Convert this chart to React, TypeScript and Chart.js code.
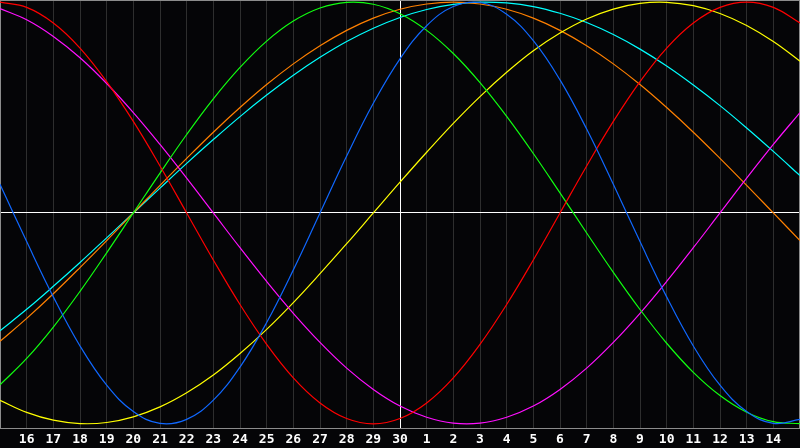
import React, { useEffect, useRef } from 'react';
import { Chart, registerables } from 'chart.js';

Chart.register(...registerables);

// Day labels (first and last positions are unlabeled chart edges)
const dayLabels = ['', '16', '17', '18', '19', '20', '21', '22', '23', '24', '25', '26', '27', '28', '29', '30',
  '1', '2', '3', '4', '5', '6', '7', '8', '9', '10', '11', '12', '13', '14', ''];

// Physical (blue)
const physical = [0.136, -0.136, -0.398, -0.631, -0.817, -0.942, -0.998, -0.979, -0.888, -0.731, -0.520, -0.270,
  0, 0.270, 0.520, 0.731, 0.888, 0.979, 0.998, 0.942, 0.817, 0.631, 0.398, 0.136, -0.136, -0.398, -0.631, -0.817,
  -0.942, -0.998, -0.979];
// Emotional (red)
const emotional = [1, 0.975, 0.901, 0.782, 0.623, 0.434, 0.223, 0, -0.223, -0.434, -0.623, -0.782, -0.901, -0.975,
  -1, -0.975, -0.901, -0.782, -0.623, -0.434, -0.223, 0, 0.223, 0.434, 0.623, 0.782, 0.901, 0.975, 1, 0.975, 0.901];
// Intellectual (green)
const intellectual = [-0.815, -0.690, -0.541, -0.372, -0.189, 0, 0.189, 0.372, 0.541, 0.690, 0.815, 0.910, 0.972,
  0.999, 0.990, 0.945, 0.866, 0.756, 0.618, 0.458, 0.282, 0.095, -0.095, -0.282, -0.458, -0.618, -0.756, -0.866,
  -0.945, -0.990, -0.999];
// Intuitive (magenta)
const intuitive = [0.969, 0.916, 0.837, 0.736, 0.614, 0.476, 0.325, 0.165, 0, -0.165, -0.325, -0.476, -0.614, -0.736,
  -0.837, -0.916, -0.969, -0.997, -0.997, -0.969, -0.916, -0.837, -0.736, -0.614, -0.476, -0.325, -0.165, 0, 0.165,
  0.325, 0.476];
// Aesthetic (yellow)
const aesthetic = [-0.889, -0.946, -0.983, -0.999, -0.994, -0.967, -0.920, -0.853, -0.769, -0.667, -0.552, -0.425,
  -0.288, -0.146, 0, 0.146, 0.288, 0.425, 0.552, 0.667, 0.769, 0.853, 0.920, 0.967, 0.994, 0.999, 0.983, 0.946,
  0.889, 0.813, 0.720];
// Awareness (orange)
const awareness = [-0.609, -0.5, -0.383, -0.259, -0.131, 0, 0.131, 0.259, 0.383, 0.5, 0.609, 0.707, 0.793, 0.866,
  0.924, 0.966, 0.991, 1.0, 0.991, 0.966, 0.924, 0.866, 0.793, 0.707, 0.609, 0.5, 0.383, 0.259, 0.131, 0, -0.131];
// Spiritual (cyan)
const spiritual = [-0.559, -0.457, -0.348, -0.235, -0.118, 0, 0.118, 0.235, 0.348, 0.457, 0.559, 0.653, 0.738,
  0.813, 0.876, 0.927, 0.965, 0.989, 1.0, 0.996, 0.979, 0.947, 0.903, 0.846, 0.777, 0.697, 0.607, 0.509, 0.403,
  0.292, 0.177];

const seriesNames = ['Physical', 'Emotional', 'Intellectual', 'Intuitive', 'Aesthetic', 'Awareness', 'Spiritual'];
const seriesData = [physical, emotional, intellectual, intuitive, aesthetic, awareness, spiritual];
const seriesColors = ['#1068ff', '#ff0000', '#10ff10', '#ff10ff', '#ffff00', '#ff8000', '#00ffff'];

const framePlugin = {
  id: 'frame',
  beforeDatasetsDraw(chart: any) {
    const { ctx, chartArea } = chart;
    ctx.save();
    ctx.strokeStyle = '#8c8c8c';
    ctx.lineWidth = 1;
    ctx.strokeRect(chartArea.left + 0.5, chartArea.top + 0.5, chartArea.right - chartArea.left - 1,
      chartArea.bottom - chartArea.top);
    ctx.restore();
  },
};

export default function App() {
  const ref = useRef<HTMLCanvasElement | null>(null);
  useEffect(() => {
    document.body.style.margin = '0';
    const canvas = ref.current;
    if (!canvas) return;
    const chart = new Chart(canvas, {
      type: 'line',
      data: {
        labels: dayLabels,
        datasets: seriesData.map((d, i) => ({
          label: seriesNames[i],
          data: d,
          borderColor: seriesColors[i],
          backgroundColor: seriesColors[i],
          borderWidth: 1.2,
          pointRadius: 0,
          pointHoverRadius: 0,
          tension: 0.4,
          fill: false,
        })),
      },
      options: {
        animation: false,
        responsive: false,
        devicePixelRatio: 1,
        layout: { padding: 0, autoPadding: false },
        plugins: { legend: { display: false }, tooltip: { enabled: false } },
        scales: {
          x: {
            type: 'category',
            offset: false,
            grid: {
              offset: false,
              drawTicks: true,
              tickLength: 4,
              tickColor: 'rgba(0,0,0,0)',
              color: (ctx: any) => (ctx.index === 15 ? '#ffffff' : ctx.index === 0 || ctx.index === 30 ? 'rgba(0,0,0,0)' : '#2e2e2e'),
            },
            border: { display: false },
            ticks: {
              color: '#ffffff',
              autoSkip: false,
              maxRotation: 0,
              padding: 0,
              font: { family: "'DejaVu Sans Mono', monospace", size: 13, weight: 'bold' },
            },
            afterFit: (s: any) => { s.height = 20; },
          },
          y: {
            min: -1.02,
            max: 1.01,
            afterBuildTicks: (s: any) => { s.ticks = [{ value: 0 }]; },
            afterFit: (s: any) => { s.width = 0; },
            ticks: { display: false },
            grid: { color: '#ffffff', drawTicks: false },
            border: { display: false },
          },
        },
      },
      plugins: [framePlugin],
    } as any);
    return () => chart.destroy();
  }, []);
  return (
    <div style={{ width: 800, height: 448, background: '#050507' }}>
      <canvas ref={ref} width={800} height={448} style={{ display: 'block' }} />
    </div>
  );
}
